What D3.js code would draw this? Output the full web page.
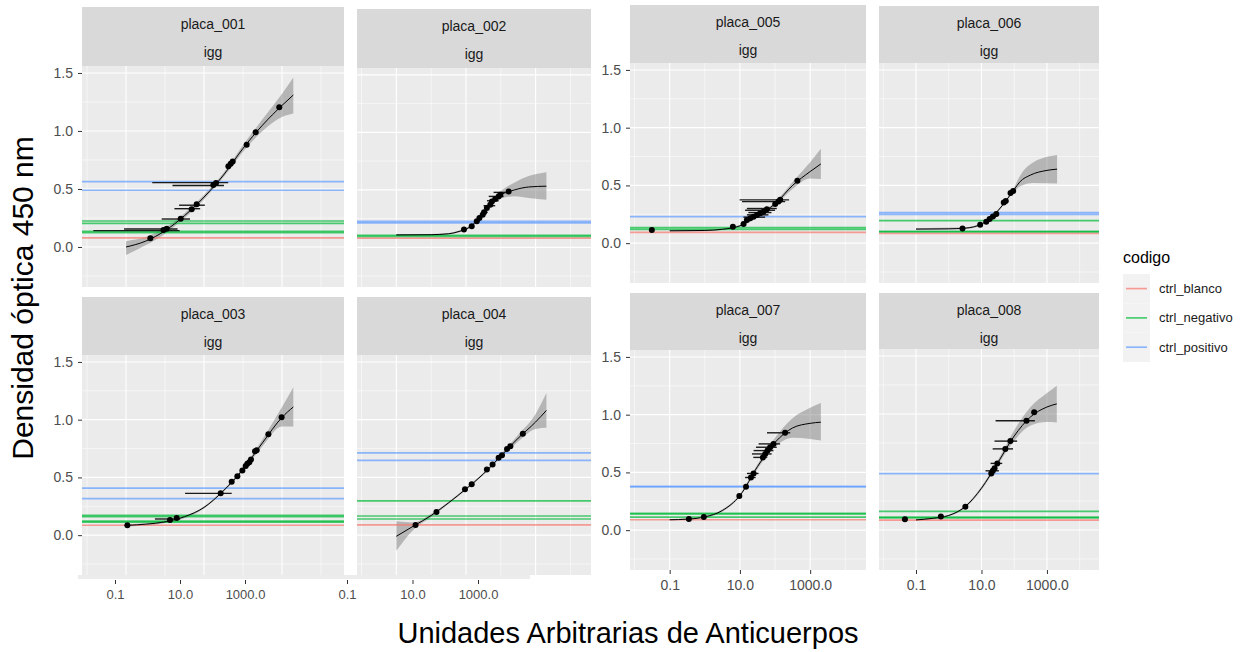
<!DOCTYPE html>
<html><head><meta charset="utf-8">
<script src="https://cdn.jsdelivr.net/npm/d3@7"></script>
<style>body{margin:0;background:#fff}svg{display:block;font-family:Arial,"Liberation Sans",sans-serif}</style>
</head><body>
<script>
// ---------------- DATA ----------------
const placas = ["placa_001","placa_002","placa_003","placa_004","placa_005","placa_006","placa_007","placa_008"];
const analito = "igg";
const codigos = ["ctrl_blanco","ctrl_negativo","ctrl_positivo"];
const yTicks = [0.0, 0.5, 1.0, 1.5];
const yMinor = [-0.25, 0.25, 0.75, 1.25];
const xTicks = [0.1, 10, 1000];
const xMinor = [0.01, 1, 100, 10000];

// fitted curve [x, y]
const curve_001 = [[0.1,0.0],[0.316,0.05],[1,0.14],[3.16,0.27],[10,0.43],[31.6,0.62],[100,0.85],[316,1.05],[1000,1.22],[1950,1.31]];
const curve_002 = [[0.1,0.108],[1,0.110],[3.16,0.118],[6.31,0.138],[12.6,0.175],[25.1,0.26],[50.1,0.375],[100,0.455],[251,0.50],[631,0.525],[2040,0.532]];
const curve_003 = [[0.107,0.085],[0.316,0.095],[1,0.115],[3.16,0.16],[10,0.24],[31.6,0.385],[100,0.57],[316,0.80],[1000,1.02],[1950,1.11]];
const curve_004 = [[0.1,-0.01],[0.316,0.08],[1,0.17],[3.16,0.28],[10,0.40],[31.6,0.53],[100,0.685],[316,0.84],[1000,0.98],[2040,1.08]];
const curve_005 = [[0.1,0.107],[1,0.11],[3.16,0.12],[10,0.15],[31.6,0.24],[100,0.34],[316,0.50],[1000,0.62],[2020,0.686]];
const curve_006 = [[0.1,0.122],[1,0.124],[3.16,0.13],[10,0.165],[17.8,0.21],[31.6,0.28],[100,0.465],[148,0.53],[316,0.59],[1000,0.63],[2040,0.641]];
const curve_007 = [[0.1,0.09],[0.316,0.095],[1,0.115],[3.16,0.17],[10,0.30],[31.6,0.55],[100,0.76],[316,0.885],[1000,0.925],[2020,0.935]];
const curve_008 = [[0.1,0.087],[0.316,0.10],[1,0.125],[3.16,0.20],[10,0.36],[31.6,0.58],[100,0.81],[316,0.975],[1000,1.06],[1995,1.087]];

// confidence band [x, lo, hi]
const band_001 = [[0.1,-0.07,0.05],[0.316,0.015,0.085],[1,0.115,0.165],[3.16,0.25,0.29],[10,0.41,0.45],[31.6,0.60,0.64],[100,0.82,0.88],[316,1.00,1.10],[1000,1.12,1.32],[1950,1.15,1.46]];
const band_002 = [[0.1,0.10,0.116],[1,0.103,0.117],[3.16,0.112,0.124],[6.31,0.13,0.146],[12.6,0.165,0.185],[25.1,0.245,0.275],[50.1,0.355,0.395],[100,0.425,0.49],[251,0.445,0.565],[631,0.43,0.62],[2040,0.414,0.653]];
const band_003 = [[0.107,0.075,0.095],[1,0.105,0.125],[10,0.23,0.25],[31.6,0.375,0.395],[100,0.555,0.585],[316,0.77,0.83],[1000,0.94,1.11],[1950,0.94,1.28]];
const band_004 = [[0.1,-0.135,0.12],[0.316,0.05,0.11],[1,0.155,0.185],[3.16,0.27,0.29],[10,0.39,0.41],[31.6,0.52,0.54],[100,0.67,0.70],[316,0.81,0.87],[1000,0.92,1.05],[2040,0.93,1.23]];
const band_005 = [[0.1,0.10,0.115],[1,0.104,0.116],[10,0.142,0.158],[31.6,0.228,0.252],[100,0.325,0.355],[316,0.47,0.53],[1000,0.56,0.70],[2020,0.555,0.817]];
const band_006 = [[0.1,0.115,0.13],[3.16,0.123,0.137],[10,0.158,0.172],[31.6,0.27,0.29],[100,0.445,0.485],[148,0.49,0.58],[389,0.52,0.70],[2040,0.516,0.763]];
const band_007 = [[0.1,0.085,0.095],[1,0.108,0.122],[3.16,0.16,0.18],[10,0.29,0.31],[31.6,0.53,0.57],[100,0.72,0.80],[316,0.80,0.97],[1000,0.79,1.06],[2020,0.776,1.10]];
const band_008 = [[0.1,0.08,0.095],[1,0.118,0.132],[3.16,0.19,0.21],[10,0.345,0.375],[31.6,0.56,0.60],[100,0.77,0.86],[316,0.90,1.06],[1000,0.93,1.18],[1995,0.927,1.244]];

// standards [x, y]
const points_001 = [[0.42,0.075],[0.91,0.147],[1.10,0.158],[2.52,0.244],[4.83,0.325],[6.49,0.368],[17.3,0.534],[20.3,0.552],[42.1,0.695],[48.3,0.718],[54.3,0.736],[124,0.882],[211,0.989],[851,1.204]];
const points_002 = [[8.75,0.155],[14.6,0.184],[20.4,0.227],[24.3,0.256],[30.2,0.284],[33.1,0.305],[39.8,0.342],[49.7,0.371],[55.6,0.399],[69.2,0.42],[86.3,0.443],[96.6,0.457],[168,0.485]];
const points_003 = [[0.108,0.086],[1.34,0.132],[1.99,0.149],[26.7,0.362],[51.2,0.463],[71.6,0.511],[96.2,0.56],[117,0.598],[129,0.618],[145,0.632],[160,0.655],[203,0.727],[224,0.736],[447,0.874],[977,1.02]];
const points_004 = [[0.356,0.089],[1.42,0.201],[9.35,0.397],[14.6,0.44],[39.8,0.569],[57.9,0.612],[86.5,0.67],[108,0.692],[151,0.747],[188,0.77],[429,0.879]];
const points_005 = [[0.031,0.113],[6.3,0.142],[12.7,0.166],[15.8,0.20],[19.7,0.215],[24.5,0.229],[30.5,0.244],[37.8,0.259],[46.8,0.273],[58.6,0.294],[101,0.34],[125,0.36],[140,0.375],[432,0.541]];
const points_006 = [[2.63,0.128],[9.12,0.16],[14.0,0.186],[17.7,0.21],[22.4,0.23],[28.4,0.253],[47.9,0.352],[55.2,0.364],[77.1,0.434],[92.9,0.451]];
const points_007 = [[0.352,0.096],[0.938,0.113],[9.62,0.296],[14.9,0.375],[20.6,0.456],[24.5,0.491],[45.1,0.63],[52.5,0.66],[61.0,0.689],[72.4,0.718],[90.2,0.747],[193,0.843]];
const points_008 = [[0.0459,0.093],[0.575,0.116],[3.22,0.201],[19.9,0.486],[22.3,0.51],[25.1,0.533],[30.4,0.574],[53.6,0.699],[76.4,0.766],[237,0.941],[407,1.014]];

// horizontal error bars [y, xmin, xmax]
const errbars_001 = [[0.141,0.0145,2.37],[0.155,0.089,2.09],[0.241,0.82,4.37],[0.33,1.74,7.94],[0.36,2.29,10.5],[0.53,1.55,32.4],[0.555,0.47,41.7]];
const errbars_002 = [[0.478,62,160],[0.443,45,120],[0.405,40,87],[0.362,32,69],[0.305,28,42]];
const errbars_003 = [[0.362,3.26,51.3],[0.14,0.55,2.43]];
const errbars_004 = [];
const errbars_005 = [[0.375,9.8,251],[0.36,11.5,195],[0.30,15.8,112],[0.285,14,100],[0.265,17.4,79],[0.245,15.8,65],[0.225,12.6,52]];
const errbars_006 = [[0.451,78,110],[0.434,66,96],[0.364,46,66],[0.352,40,58],[0.253,24,34],[0.23,18,28],[0.21,15,22]];
const errbars_007 = [[0.843,59,270],[0.747,34,139],[0.718,28.6,112],[0.689,24.5,90],[0.66,22,80],[0.63,24,60],[0.491,15.8,34],[0.456,14,28]];
const errbars_008 = [[0.941,27,427],[0.766,25,123],[0.699,22,92],[0.574,19,43],[0.51,13.3,34]];

// control reference lines [codigo, y]
const hlines_001 = [["ctrl_blanco",0.078],["ctrl_negativo",0.224],["ctrl_negativo",0.204],["ctrl_negativo",0.135],["ctrl_negativo",0.123],["ctrl_positivo",0.563],["ctrl_positivo",0.489]];
const hlines_002 = [["ctrl_blanco",0.08],["ctrl_negativo",0.095],["ctrl_negativo",0.105],["ctrl_positivo",0.213],["ctrl_positivo",0.225]];
const hlines_003 = [["ctrl_blanco",0.086],["ctrl_negativo",0.172],["ctrl_negativo",0.16],["ctrl_negativo",0.122],["ctrl_negativo",0.112],["ctrl_positivo",0.408],["ctrl_positivo",0.316]];
const hlines_004 = [["ctrl_blanco",0.089],["ctrl_negativo",0.296],["ctrl_negativo",0.166],["ctrl_negativo",0.14],["ctrl_positivo",0.713],["ctrl_positivo",0.647]];
const hlines_005 = [["ctrl_blanco",0.093],["ctrl_negativo",0.135],["ctrl_negativo",0.12],["ctrl_positivo",0.229]];
const hlines_006 = [["ctrl_blanco",0.084],["ctrl_negativo",0.195],["ctrl_negativo",0.103],["ctrl_negativo",0.097],["ctrl_positivo",0.265],["ctrl_positivo",0.25]];
const hlines_007 = [["ctrl_blanco",0.09],["ctrl_negativo",0.145],["ctrl_negativo",0.14],["ctrl_negativo",0.113],["ctrl_positivo",0.375],["ctrl_positivo",0.38]];
const hlines_008 = [["ctrl_blanco",0.085],["ctrl_negativo",0.16],["ctrl_negativo",0.11],["ctrl_negativo",0.105],["ctrl_positivo",0.485]];

// ---------------- LAYOUT ----------------
const curves = [curve_001,curve_002,curve_003,curve_004,curve_005,curve_006,curve_007,curve_008];
const bands = [band_001,band_002,band_003,band_004,band_005,band_006,band_007,band_008];
const pointsAll = [points_001,points_002,points_003,points_004,points_005,points_006,points_007,points_008];
const errAll = [errbars_001,errbars_002,errbars_003,errbars_004,errbars_005,errbars_006,errbars_007,errbars_008];
const hlAll = [hlines_001,hlines_002,hlines_003,hlines_004,hlines_005,hlines_006,hlines_007,hlines_008];

const layout = [
  {x0:82, x1:344, st:7,   pt:66,  pb:287, yaxis:true},
  {x0:357,x1:591, st:9,   pt:68,  pb:287},
  {x0:82, x1:344, st:297, pt:355, pb:575, yaxis:true},
  {x0:357,x1:591, st:297, pt:355, pb:575},
  {x0:630,x1:866, st:5,   pt:63,  pb:283, yaxis:true},
  {x0:879,x1:1099,st:6,   pt:63,  pb:283},
  {x0:630,x1:866, st:293, pt:350, pb:570, yaxis:true, xaxis:true},
  {x0:879,x1:1099,st:293, pt:349, pb:570, xaxis:true}
];
const xDomain = [Math.pow(10,-2.13), Math.pow(10,4.59)];
const yDomain = [-0.345, 1.56];
const colour = d3.scaleOrdinal().domain(codigos).range(["#F8766D","#00BA38","#619CFF"]);

const W = 1250, H = 652;
const svg = d3.select("body").append("svg").attr("width", W).attr("height", H);
svg.append("rect").attr("width", W).attr("height", H).attr("fill", "#fff");

// light band under left figure panels (as in reference)
svg.append("rect").attr("x",78).attr("y",575).attr("width",452).attr("height",4).attr("fill","#ececec");

placas.forEach((placa, i) => {
  const L = layout[i];
  const x = d3.scaleLog().domain(xDomain).range([L.x0, L.x1]);
  const y = d3.scaleLinear().domain(yDomain).range([L.pb, L.pt]);
  const g = svg.append("g");

  // strip
  g.append("rect").attr("x", L.x0).attr("y", L.st).attr("width", L.x1 - L.x0).attr("height", L.pt - L.st).attr("fill", "#D9D9D9");
  const cx = (L.x0 + L.x1) / 2;
  g.append("text").attr("x", cx).attr("y", L.st + 22).attr("text-anchor","middle").attr("font-size",14).attr("fill","#1A1A1A").text(placa);
  g.append("text").attr("x", cx).attr("y", L.st + 50).attr("text-anchor","middle").attr("font-size",14).attr("fill","#1A1A1A").text(analito);

  // panel
  g.append("rect").attr("x", L.x0).attr("y", L.pt).attr("width", L.x1 - L.x0).attr("height", L.pb - L.pt).attr("fill", "#EBEBEB");
  const clipId = "clip" + i;
  svg.append("clipPath").attr("id", clipId).append("rect").attr("x", L.x0).attr("y", L.pt).attr("width", L.x1 - L.x0).attr("height", L.pb - L.pt);
  const p = g.append("g").attr("clip-path", `url(#${clipId})`);

  p.selectAll(".ymin").data(yMinor).join("line").attr("x1", L.x0).attr("x2", L.x1).attr("y1", d => y(d)).attr("y2", d => y(d)).attr("stroke","#fff").attr("stroke-width",0.55);
  p.selectAll(".xmin").data(xMinor).join("line").attr("y1", L.pt).attr("y2", L.pb).attr("x1", d => x(d)).attr("x2", d => x(d)).attr("stroke","#fff").attr("stroke-width",0.55);
  p.selectAll(".ymaj").data(yTicks).join("line").attr("x1", L.x0).attr("x2", L.x1).attr("y1", d => y(d)).attr("y2", d => y(d)).attr("stroke","#fff").attr("stroke-width",1.1);
  p.selectAll(".xmaj").data(xTicks).join("line").attr("y1", L.pt).attr("y2", L.pb).attr("x1", d => x(d)).attr("x2", d => x(d)).attr("stroke","#fff").attr("stroke-width",1.1);

  // ribbon
  const area = d3.area().x(d => x(d[0])).y0(d => y(d[1])).y1(d => y(d[2])).curve(d3.curveMonotoneX);
  p.append("path").attr("d", area(bands[i])).attr("fill", "#7a7a7a").attr("fill-opacity", 0.47);

  // reference lines
  p.selectAll(".hl").data(hlAll[i]).join("line")
    .attr("x1", L.x0).attr("x2", L.x1).attr("y1", d => y(d[1])).attr("y2", d => y(d[1]))
    .attr("stroke", d => colour(d[0])).attr("stroke-width", 1.7).attr("stroke-opacity", 0.7);

  // curve
  const line = d3.line().x(d => x(d[0])).y(d => y(d[1])).curve(d3.curveMonotoneX);
  p.append("path").attr("d", line(curves[i])).attr("fill","none").attr("stroke","#000").attr("stroke-width",1);

  // error bars
  p.selectAll(".eb").data(errAll[i]).join("line")
    .attr("x1", d => x(d[1])).attr("x2", d => x(d[2])).attr("y1", d => y(d[0])).attr("y2", d => y(d[0]))
    .attr("stroke", "#1a1a1a").attr("stroke-width", 1.4);

  // points
  p.selectAll(".pt").data(pointsAll[i]).join("circle")
    .attr("cx", d => x(d[0])).attr("cy", d => y(d[1])).attr("r", 3).attr("fill", "#000");

  // y axis
  if (L.yaxis) {
    const ya = g.append("g").attr("transform", `translate(${L.x0},0)`)
      .call(d3.axisLeft(y).tickValues(yTicks).tickFormat(d3.format(".1f")).tickSize(4).tickPadding(5));
    ya.select(".domain").remove();
    ya.selectAll("line").attr("stroke","#333");
    ya.selectAll("text").attr("fill","#4D4D4D").attr("font-size",14).attr("font-family","Arial, 'Liberation Sans', sans-serif");
  }
  // x axis (right figure)
  if (L.xaxis) {
    const xa = g.append("g").attr("transform", `translate(0,${L.pb})`)
      .call(d3.axisBottom(x).tickValues(xTicks).tickFormat(d3.format(".1f")).tickSize(4).tickPadding(6));
    xa.select(".domain").remove();
    xa.selectAll("line").attr("stroke","#333");
    xa.selectAll("text").attr("fill","#4D4D4D").attr("font-size",14).attr("font-family","Arial, 'Liberation Sans', sans-serif");
  }
});

// x axes of the left figure (compressed in the reference)
const leftAxisRanges = [[115,245],[347,478]];
leftAxisRanges.forEach(r => {
  const xs = d3.scaleLog().domain([0.1, 1000]).range(r);
  const xa = svg.append("g").attr("transform", "translate(0,580)")
    .call(d3.axisBottom(xs).tickValues(xTicks).tickFormat(d3.format(".1f")).tickSize(4).tickPadding(6));
  xa.select(".domain").remove();
  xa.selectAll("line").attr("stroke","#333");
  xa.selectAll("text").attr("fill","#4D4D4D").attr("font-size",13).attr("font-family","Arial, 'Liberation Sans', sans-serif");
});

// legend
const lg = svg.append("g");
lg.append("text").attr("x",1123).attr("y",263).attr("font-size",16).attr("fill","#000").text("codigo");
codigos.forEach((c, k) => {
  const ky = 274 + k * 29.3;
  lg.append("rect").attr("x",1123).attr("y",ky).attr("width",27).attr("height",29.3).attr("fill","#F2F2F2");
  lg.append("line").attr("x1",1126).attr("x2",1147).attr("y1",ky+14.6).attr("y2",ky+14.6).attr("stroke",colour(c)).attr("stroke-width",1.7).attr("stroke-opacity",0.7);
  lg.append("text").attr("x",1159).attr("y",ky+19).attr("font-size",13).attr("fill","#1A1A1A").text(c);
});

// axis titles
svg.append("text").attr("transform","translate(33,298) rotate(-90)").attr("text-anchor","middle").attr("font-size",30).attr("fill","#000").text("Densidad óptica 450 nm");
svg.append("text").attr("x",628).attr("y",643).attr("text-anchor","middle").attr("font-size",29).attr("fill","#000").text("Unidades Arbitrarias de Anticuerpos");
</script>
</body></html>
